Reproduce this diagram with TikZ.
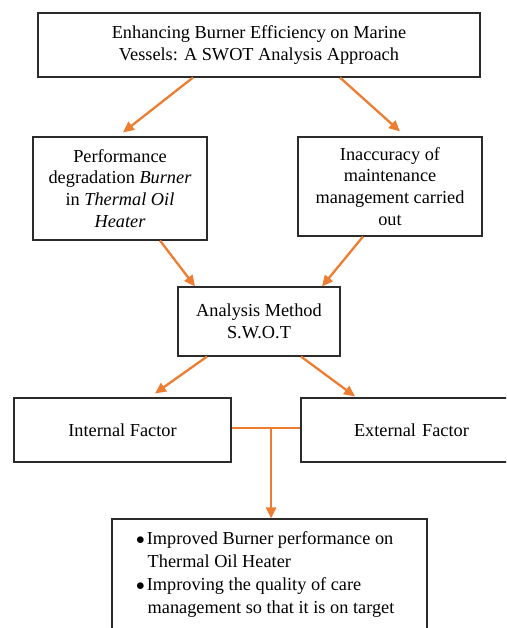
\documentclass[tikz,border=0pt]{standalone}
\usepackage{fontspec}
\setmainfont{Liberation Serif}
\usetikzlibrary{arrows.meta}
\definecolor{arrorange}{HTML}{ED7D31}
\definecolor{boxline}{HTML}{2B2B2B}
\begin{document}
\begin{tikzpicture}[x=1pt,y=1pt,
  box/.style={draw=boxline, line width=1.1pt, fill=white, inner sep=0pt, align=center,
    font=\fontsize{18.3}{21.8}\selectfont},
  arr/.style={draw=arrorange, line width=2.3pt, -{Triangle[length=11pt,width=10pt]}},
  link/.style={draw=arrorange, line width=2.3pt}]
\useasboundingbox (0,0) rectangle (506,-628);
\clip (0,0) rectangle (506,-628);
\node[box, minimum width=442pt, minimum height=64pt] (top) at (259,-45)
  {Enhancing Burner Efficiency on Marine\\Vessels: A SWOT Analysis Approach};
\node[box, minimum width=174pt, minimum height=103pt] (left) at (120,-188.5)
  {Performance\\degradation \textit{Burner}\\in \textit{Thermal Oil}\\\textit{Heater}};
\node[box, minimum width=184pt, minimum height=99pt] (right) at (390,-186.5)
  {Inaccuracy of\\maintenance\\management carried\\out};
\node[box, minimum width=162pt, minimum height=69pt] (ana) at (259,-321.5)
  {Analysis Method\\S.W.O.T};
\node[box, minimum width=217pt, minimum height=64pt] (int) at (122.5,-430)
  {Internal Factor};
\node[box, minimum width=219pt, minimum height=64pt, text width=205pt, align=left] (ext) at (410.5,-430)
  {\hspace{46pt}External Factor};
\node[box, minimum width=315pt, minimum height=131pt] (res) at (269.5,-584.5) {};
\node[anchor=north west, inner sep=0pt, align=left, font=\fontsize{18.3}{23}\selectfont] (restext) at (136,-531)
  {$\bullet$\hspace{2pt}Improved Burner performance on\\
   \hspace{11.5pt}Thermal Oil Heater\\
   $\bullet$\hspace{2pt}Improving the quality of care\\
   \hspace{11.5pt}management so that it is on target};
\draw[arr] ([xshift=-66pt]top.south) -- ([xshift=3pt,yshift=4pt]left.north);
\draw[arr] ([xshift=81pt]top.south) -- ([xshift=10pt,yshift=5pt]right.north);
\draw[arr] ([xshift=40pt]left.south) -- ([xshift=-64pt]ana.north);
\draw[arr] ([xshift=-27pt]right.south) -- ([xshift=63pt]ana.north);
\draw[arr] ([xshift=-52pt]ana.south) -- ([xshift=32.5pt,yshift=4pt]int.north);
\draw[arr] ([xshift=42pt]ana.south) -- ([xshift=-55.5pt,yshift=1pt]ext.north);
\draw[link] ([yshift=2pt]int.east) -- ([yshift=2pt]ext.west);
\coordinate (j) at ([xshift=39.5pt,yshift=2pt]int.east);
\draw[arr] (j) -- (j |- res.north);
\end{tikzpicture}
\end{document}
